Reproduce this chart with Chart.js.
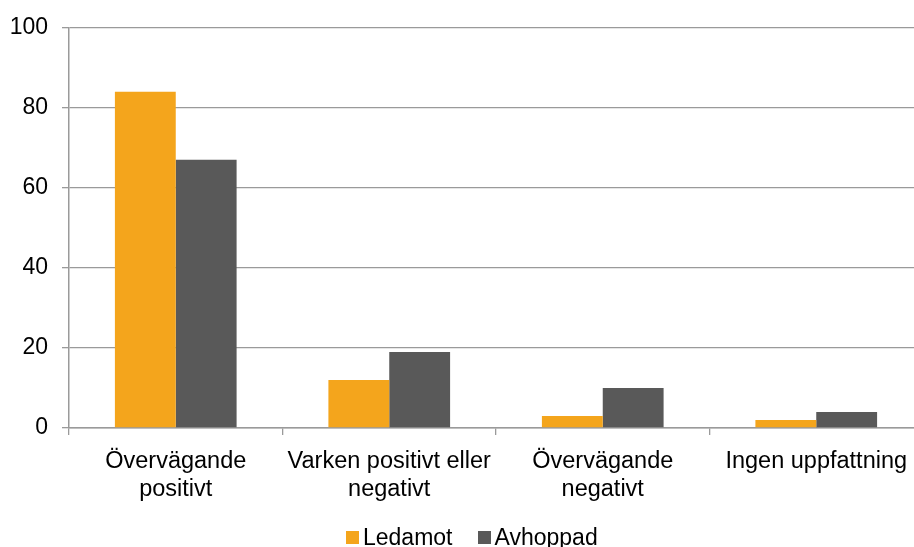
<!DOCTYPE html>
<html>
<head>
<meta charset="utf-8">
<script src="https://cdn.jsdelivr.net/npm/chart.js@4.4.1/dist/chart.umd.min.js"></script>
<style>
  html, body { margin: 0; padding: 0; background: #fff; overflow: hidden; }
  #wrap { position: relative; width: 914px; height: 547px; overflow: hidden; }
  #box { position: absolute; left: 0; top: 0; width: 923px; height: 547px; }
  #legend {
    position: absolute; left: 346px; top: 523px; height: 28px;
    display: flex; align-items: center;
    font-family: "Liberation Sans", Arial, sans-serif; font-size: 23px; color: #000;
  }
  #legend .item { display: flex; align-items: center; margin-right: 25px; }
  #legend .sw { width: 13px; height: 13px; margin-right: 4px; }
</style>
</head>
<body>
<div id="wrap">
  <div id="box"><canvas id="chart"></canvas></div>
  <div id="legend"></div>
</div>
<script>
  var categories = [
    ['Övervägande', 'positivt'],
    ['Varken positivt eller', 'negativt'],
    ['Övervägande', 'negativt'],
    'Ingen uppfattning'
  ];
  var ledamot = [84, 12, 3, 2];
  var avhoppad = [67, 19, 10, 4];
  var seriesNames = ['Ledamot', 'Avhoppad'];
  var seriesColors = ['#F4A51C', '#595959'];

  var fontFamily = '"Liberation Sans", Arial, sans-serif';
  var lineGray = '#9a9a9a';

  // legend under the plot
  var legend = document.getElementById('legend');
  seriesNames.forEach(function (name, i) {
    var item = document.createElement('div');
    item.className = 'item';
    item.innerHTML = '<span class="sw" style="background:' + seriesColors[i] + '"></span>' + name;
    legend.appendChild(item);
  });

  const ctx = document.getElementById('chart');

  new Chart(ctx, {
    type: 'bar',
    data: {
      labels: categories,
      datasets: [{
        label: seriesNames[0],
        data: ledamot,
        backgroundColor: seriesColors[0],
        categoryPercentage: 0.57,
        barPercentage: 1.0
      }, {
        label: seriesNames[1],
        data: avhoppad,
        backgroundColor: seriesColors[1],
        categoryPercentage: 0.57,
        barPercentage: 1.0
      }]
    },
    options: {
      responsive: true,
      maintainAspectRatio: false,
      animation: false,
      layout: { padding: { top: 26, left: 0, right: 0, bottom: 0 } },
      plugins: {
        legend: { display: false },
        tooltip: { enabled: false }
      },
      scales: {
        y: {
          min: 0,
          max: 100,
          ticks: {
            stepSize: 20,
            padding: 14,
            color: '#000',
            font: { family: fontFamily, size: 23 }
          },
          grid: {
            color: lineGray,
            lineWidth: 1.3,
            tickLength: 7
          },
          border: { color: lineGray, width: 1.5 },
          afterFit: function (scale) { scale.width = 69; }
        },
        x: {
          offset: true,
          ticks: {
            padding: 12,
            color: '#000',
            maxRotation: 0,
            autoSkip: false,
            font: { family: fontFamily, size: 23.5, lineHeight: 1.2 }
          },
          grid: {
            offset: true,
            drawOnChartArea: false,
            color: lineGray,
            lineWidth: 1.3,
            tickLength: 7
          },
          border: { color: lineGray, width: 1.5 },
          afterFit: function (scale) { scale.height = 119; }
        }
      }
    }
  });
</script>
</body>
</html>
